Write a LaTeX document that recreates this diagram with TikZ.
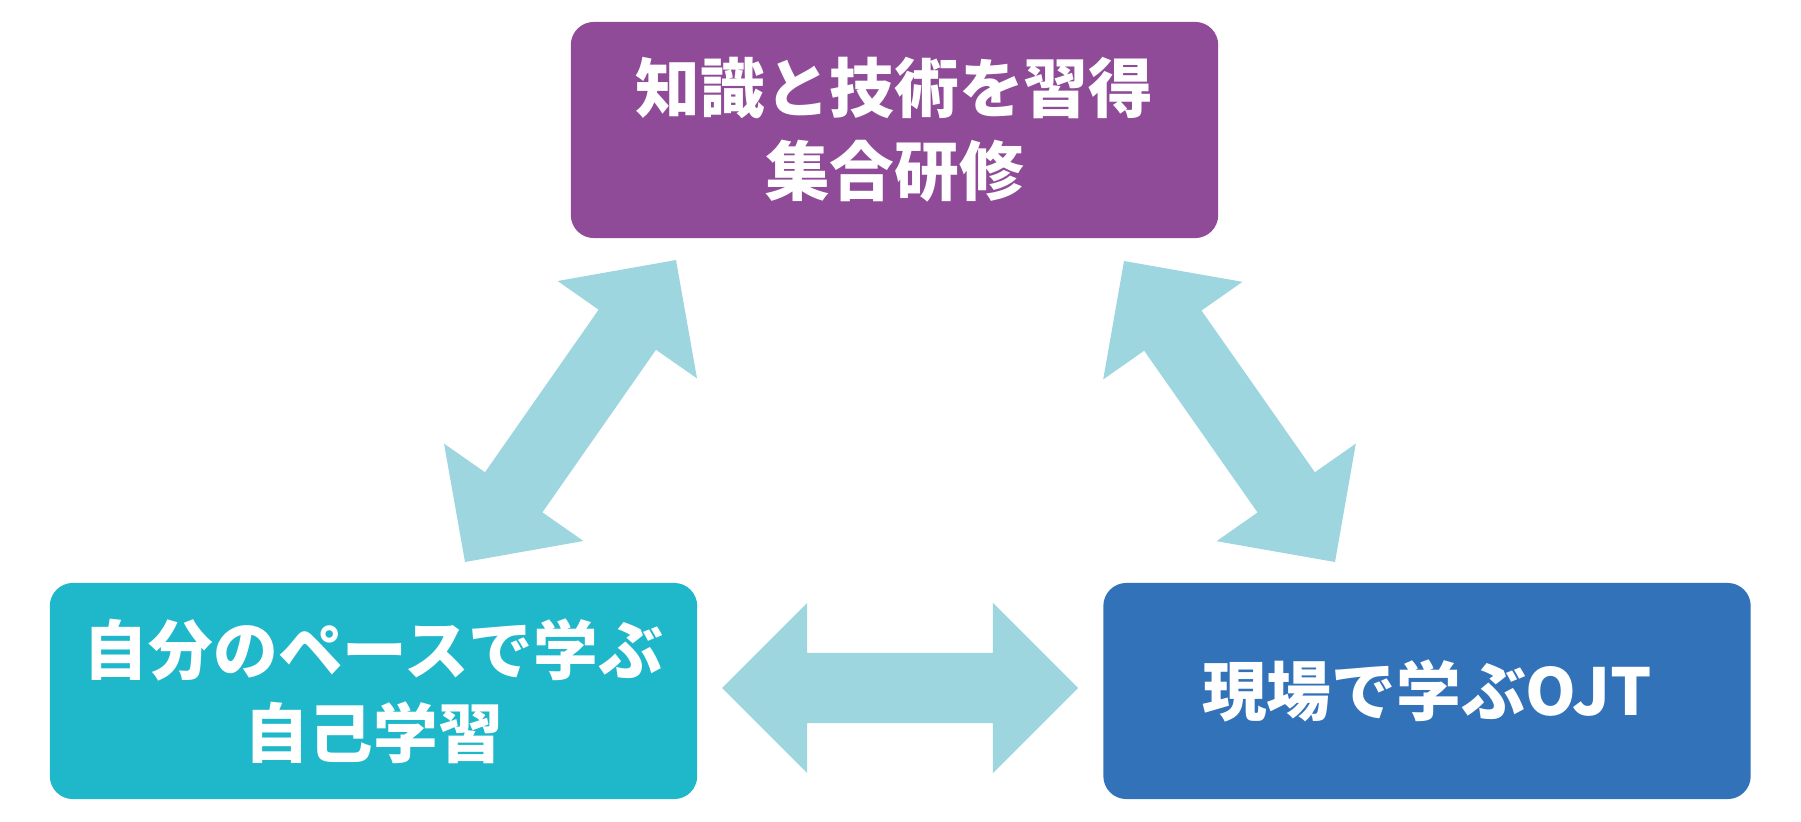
\documentclass[tikz,border=0pt]{standalone}
\usepackage{fontspec}
\newfontfamily\jpfont{Noto Sans CJK JP}
\usetikzlibrary{calc}
\definecolor{kncol}{RGB}{143,74,152}
\definecolor{selfcol}{RGB}{31,184,202}
\definecolor{ojtcol}{RGB}{50,114,185}
\definecolor{arrcol}{RGB}{158,214,224}
\newcommand{\dblarrow}[2]{%
  \coordinate (#1h) at ($(#1)!0.85cm!(#2)$);
  \coordinate (#2h) at ($(#2)!0.85cm!(#1)$);
  \fill[arrcol] (#1) -- ($(#1h)!0.85cm!90:(#2)$) -- ($(#1h)!0.35cm!90:(#2)$)
    -- ($(#2h)!0.35cm!-90:(#1)$) -- ($(#2h)!0.85cm!-90:(#1)$) -- (#2)
    -- ($(#2h)!0.85cm!90:(#1)$) -- ($(#2h)!0.35cm!90:(#1)$)
    -- ($(#1h)!0.35cm!-90:(#2)$) -- ($(#1h)!0.85cm!-90:(#2)$) -- cycle;}

\begin{document}
\begin{tikzpicture}[x=0.01cm,y=-0.01cm,
    box/.style={rectangle,rounded corners=0.23cm,minimum width=6.47cm,
      minimum height=2.16cm,inner sep=0pt,align=center,text=white,
      font=\jpfont\bfseries\fontsize{18.4}{23.5}\selectfont}]

  \useasboundingbox (0,0) rectangle (1801,821);

  \node[box,fill=kncol] (1) at (894.5,130) {知識と技術を習得\\集合研修};
  \node[box,fill=selfcol] (2) at (373.5,691) {自分のペースで学ぶ\\自己学習};
  \node[box,fill=ojtcol] (3) at (1427,691) {現場で学ぶOJT};

  \coordinate (12) at (676,260);
  \coordinate (21) at (465,562);
  \coordinate (13) at (1124,261);
  \coordinate (31) at (1335,562);
  \coordinate (23) at (722,688);
  \coordinate (32) at (1078,688);

  \dblarrow{12}{21}
  \dblarrow{13}{31}
  \dblarrow{23}{32}

\end{tikzpicture}
\end{document}
